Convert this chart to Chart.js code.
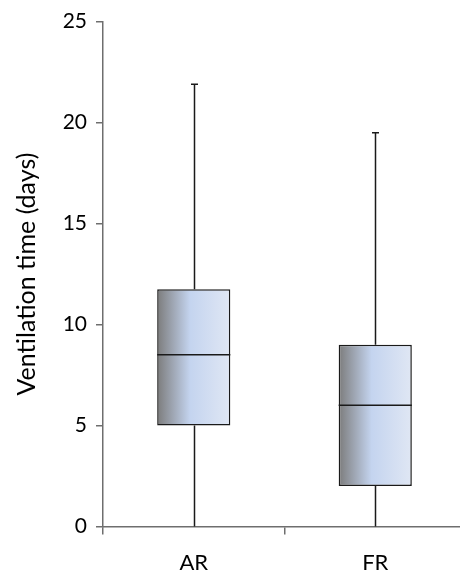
<!DOCTYPE html>
<html>
<head>
<meta charset="utf-8">
<script src="https://cdn.jsdelivr.net/npm/chart.js@4"></script>
<style>
  html, body { margin: 0; padding: 0; background: #fff; overflow: hidden; }
  #wrap { width: 466px; height: 570px; }
</style>
</head>
<body>
<div id="wrap"><canvas id="boxChart"></canvas></div>
<script>
const categories = ['AR', 'FR'];
const mins = [0, 0];
const q1s = [5, 2];
const medians = [8.5, 6];
const q3s = [11.75, 9];
const maxs = [21.9, 19.5];
const yTicks = [0, 5, 10, 15, 20, 25];

const BOX_PCT = 0.403;
const FONT = "Lato, 'Open Sans', 'DejaVu Sans', sans-serif";

// gradient across each box, dark grey on the left to pale blue on the right
const boxFill = (ctx) => {
  const chart = ctx.chart;
  const xs = chart.scales.x;
  if (!chart.chartArea || !xs) return '#c6d5ee';
  const cx = xs.getPixelForValue(ctx.dataIndex);
  const half = (xs.width / categories.length) * BOX_PCT / 2;
  const g = chart.ctx.createLinearGradient(cx - half, 0, cx + half, 0);
  g.addColorStop(0, '#7c7c7c');
  g.addColorStop(0.45, '#c4d4ef');
  g.addColorStop(1, '#e0e7f4');
  return g;
};

const whiskerPlugin = {
  id: 'whiskers',
  beforeDatasetsDraw(chart) {
    const { ctx, scales: { x, y } } = chart;
    ctx.save();
    ctx.strokeStyle = '#1a1a1a';
    ctx.lineWidth = 1.5;
    categories.forEach((c, i) => {
      const cx = Math.round(x.getPixelForValue(i)) + 0.5;
      ctx.beginPath();
      ctx.moveTo(cx, y.getPixelForValue(mins[i]));
      ctx.lineTo(cx, y.getPixelForValue(q1s[i]));
      ctx.moveTo(cx, y.getPixelForValue(q3s[i]));
      ctx.lineTo(cx, y.getPixelForValue(maxs[i]));
      // caps
      ctx.moveTo(cx - 3.5, y.getPixelForValue(maxs[i]));
      ctx.lineTo(cx + 3.5, y.getPixelForValue(maxs[i]));
      ctx.stroke();
    });
    ctx.restore();
  },
  afterDatasetsDraw(chart) {
    const { ctx, scales: { x, y } } = chart;
    const half = (x.width / categories.length) * BOX_PCT / 2;
    ctx.save();
    ctx.strokeStyle = '#1a1a1a';
    ctx.lineWidth = 1.5;
    categories.forEach((c, i) => {
      const cx = x.getPixelForValue(i);
      const my = y.getPixelForValue(medians[i]);
      ctx.beginPath();
      ctx.moveTo(cx - half, my);
      ctx.lineTo(cx + half, my);
      ctx.stroke();
    });
    ctx.restore();
  }
};

new Chart(document.getElementById('boxChart'), {
  type: 'bar',
  data: {
    labels: categories,
    datasets: [{
      data: categories.map((c, i) => [q1s[i], q3s[i]]),
      backgroundColor: boxFill,
      borderColor: '#1a1a1a',
      borderWidth: 1.5,
      borderSkipped: false,
      categoryPercentage: 1,
      barPercentage: BOX_PCT
    }]
  },
  plugins: [whiskerPlugin],
  options: {
    responsive: true,
    maintainAspectRatio: false,
    animation: false,
    layout: { padding: { top: 19.5, left: 0, right: 0, bottom: 0 } },
    plugins: { legend: { display: false }, tooltip: { enabled: false } },
    scales: {
      x: {
        offset: true,
        grid: { offset: true, drawOnChartArea: false, drawTicks: true, tickLength: 8, color: '#6e6e6e', lineWidth: 1.5 },
        border: { color: '#6e6e6e', width: 1.5 },
        ticks: { color: '#000', font: { family: FONT, size: 22 }, padding: 15 },
        afterFit: (s) => { s.height = 43.5; }
      },
      y: {
        min: 0,
        max: 25,
        afterBuildTicks: (s) => { s.ticks = yTicks.map(v => ({ value: v })); },
        grid: { drawOnChartArea: false, drawTicks: true, tickLength: 7, color: '#6e6e6e', lineWidth: 1.5 },
        border: { color: '#6e6e6e', width: 1.5 },
        ticks: { color: '#000', font: { family: FONT, size: 21 }, padding: 9 },
        title: {
          display: true,
          text: 'Ventilation time (days)',
          color: '#000',
          font: { family: FONT, size: 25 },
          padding: { top: 12, bottom: 12 }
        },
        afterFit: (s) => { s.width = 103; }
      }
    }
  }
});
</script>
</body>
</html>
